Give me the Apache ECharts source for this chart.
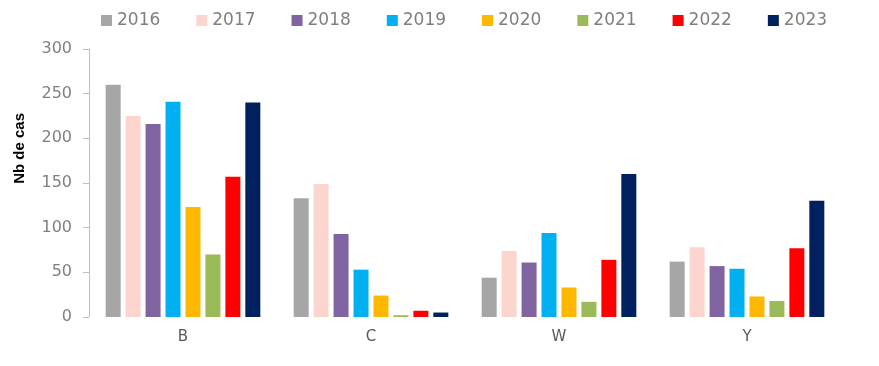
<!DOCTYPE html>
<html><head><meta charset="utf-8">
<script src="https://cdn.jsdelivr.net/npm/echarts@6/dist/echarts.min.js"></script>
<style>html,body{margin:0;padding:0;background:#fff}#c{width:879px;height:366px}</style>
</head><body><div id="c"></div>
<script>
const categories = ['B', 'C', 'W', 'Y'];
const years = ['2016', '2017', '2018', '2019', '2020', '2021', '2022', '2023'];
const v2016 = [260, 133, 44, 62];
const v2017 = [225, 149, 74, 78];
const v2018 = [216, 93, 61, 57];
const v2019 = [241, 53, 94, 54];
const v2020 = [123, 24, 33, 23];
const v2021 = [70, 2, 17, 18];
const v2022 = [157, 7, 64, 77];
const v2023 = [240, 5, 160, 130];
const colors = ['#A6A6A6', '#FCD5CE', '#8064A2', '#00B0F0', '#FFB800', '#9BBB59', '#FF0000', '#002060'];
const values = [v2016, v2017, v2018, v2019, v2020, v2021, v2022, v2023];
const yTicks = [0, 50, 100, 150, 200, 250, 300];
const yTitle = 'Nb de cas';

const chart = echarts.init(document.getElementById('c'));
chart.setOption({
  animation: false,
  color: colors,
  legend: {
    top: 7, left: 96,
    itemWidth: 11, itemHeight: 11, itemGap: 36,
    icon: 'rect',
    textStyle: { color: '#7F7F7F', fontSize: 17, fontFamily: 'DejaVu Sans' },
    data: years
  },
  graphic: [{
    type: 'text', left: 12, top: 113, rotation: Math.PI / 2,
    style: { text: yTitle, font: 'bold 15px "Liberation Sans"', fill: '#000' }
  }],
  grid: { left: 89, right: 38, top: 49, bottom: 49 },
  xAxis: {
    type: 'category', data: categories,
    axisLine: { show: false }, axisTick: { show: false },
    axisLabel: { color: '#595959', fontSize: 15, fontFamily: 'DejaVu Sans', margin: 13 }
  },
  yAxis: {
    type: 'value', min: yTicks[0], max: yTicks[yTicks.length - 1], interval: 50,
    axisLine: { show: true, lineStyle: { color: '#BFBFBF' } },
    axisTick: { show: true, length: 6, lineStyle: { color: '#BFBFBF' } },
    splitLine: { show: false },
    axisLabel: { color: '#808080', fontSize: 16, fontFamily: 'DejaVu Sans', margin: 17 }
  },
  series: years.map((y, i) => ({
    name: y, type: 'bar', data: values[i],
    barWidth: 15, barGap: '33%'
  }))
});
</script></body></html>
